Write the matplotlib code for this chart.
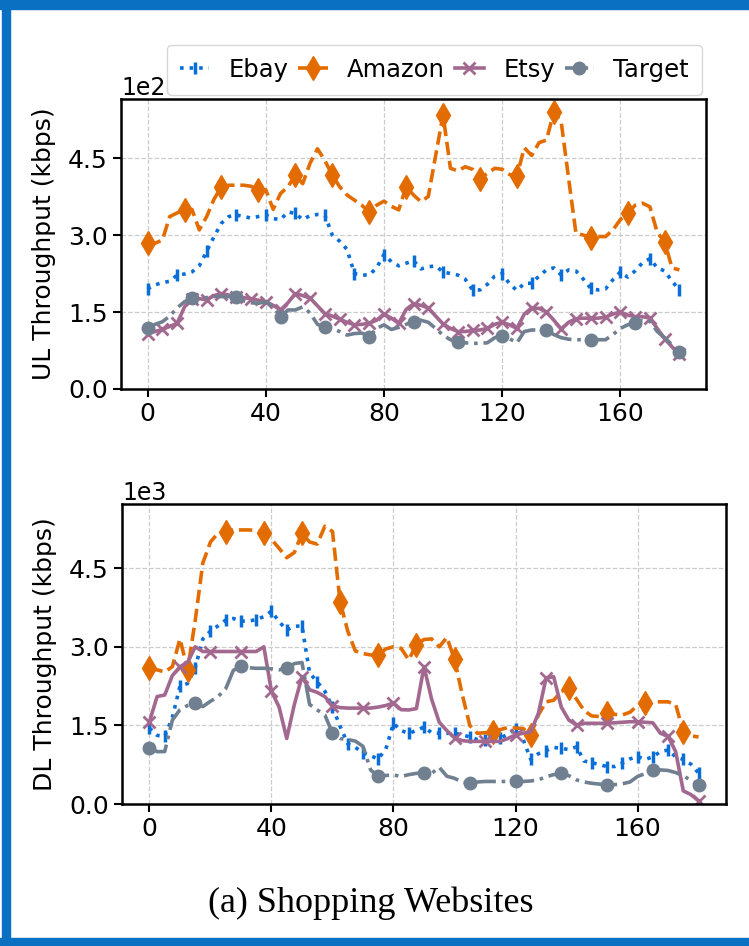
import numpy as np
import matplotlib
matplotlib.use("Agg")
import matplotlib.pyplot as plt
from matplotlib.patches import Rectangle
from matplotlib.ticker import ScalarFormatter

# time axis (s), sampled every 2.5 s
time_s = np.arange(73) * 2.5

series_names = ["Ebay", "Amazon", "Etsy", "Target"]

# ---------------- UL throughput (kbps) ----------------
ul_ebay = [195, 203, 207, 210, 222, 224, 228, 240, 268, 297, 323, 336, 339, 336, 333, 336,
           339, 332, 330, 345, 342, 330, 338, 340, 339, 300, 288, 272, 225, 222, 222, 236,
           262, 248, 240, 245, 250, 234, 238, 240, 228, 225, 222, 214, 193, 193, 204, 220,
           225, 205, 192, 206, 206, 220, 232, 236, 222, 232, 230, 214, 196, 193, 195, 213,
           228, 218, 230, 246, 254, 236, 230, 210, 193]
ul_amazon = [284, 284, 290, 336, 343, 349, 350, 310, 336, 370, 394, 397, 397, 397, 395, 388,
             388, 350, 381, 394, 417, 400, 440, 468, 445, 417, 394, 378, 368, 358, 345, 358,
             366, 356, 349, 394, 378, 365, 375, 455, 534, 430, 425, 433, 428, 410, 420, 430,
             428, 418, 415, 470, 455, 480, 485, 540, 520, 410, 303, 300, 294, 297, 297, 310,
             330, 342, 358, 362, 355, 305, 287, 236, 232]
ul_etsy = [108, 112, 116, 122, 128, 160, 176, 176, 174, 182, 186, 183, 180, 178, 176, 173,
           170, 163, 154, 168, 186, 182, 177, 162, 147, 142, 136, 130, 125, 126, 128, 134,
           146, 138, 128, 155, 166, 163, 158, 142, 127, 118, 112, 112, 114, 115, 118, 126,
           130, 125, 118, 146, 158, 157, 150, 134, 117, 130, 137, 138, 138, 138, 140, 146,
           150, 144, 141, 141, 138, 118, 98, 82, 68]
ul_target = [118, 126, 131, 142, 158, 170, 177, 177, 178, 180, 180, 180, 180, 172, 168, 167,
             170, 160, 141, 154, 154, 160, 148, 126, 120, 118, 112, 105, 108, 109, 102, 118,
             125, 116, 120, 126, 131, 134, 130, 118, 105, 96, 92, 90, 89, 89, 90, 100,
             103, 98, 90, 112, 115, 115, 115, 106, 100, 97, 96, 96, 96, 96, 96, 106,
             118, 125, 128, 134, 132, 112, 100, 86, 72]

# ---------------- DL throughput (kbps) ----------------
dl_ebay = [1450, 1310, 1290, 1650, 2250, 2300, 2600, 3150, 3300, 3400, 3510, 3540, 3490, 3490,
           3520, 3575, 3680, 3480, 3320, 3390, 3400, 2500, 2330, 2150, 1850, 1480, 1150, 1080,
           980, 920, 860, 1050, 1540, 1400, 1350, 1400, 1470, 1360, 1350, 1350, 1350, 1320,
           1280, 1230, 1220, 1220, 1260, 1330, 1430, 1230, 850, 960, 1020, 1080, 1060, 1040,
           1090, 820, 790, 750, 715, 715, 780, 860, 905, 850, 900, 1000, 1030, 900, 850, 760, 590]
dl_amazon = [2590, 2560, 2520, 2620, 3150, 2560, 3500, 4600, 5000, 5170, 5200, 5230, 5230, 5230,
             5220, 5165, 5050, 4880, 4700, 4800, 5165, 5000, 4960, 5300, 5200, 3860, 3300, 2920,
             2870, 2845, 2845, 2960, 3000, 2970, 2750, 3040, 3140, 3150, 3000, 3180, 2760, 2100,
             1500, 1350, 1360, 1380, 1420, 1460, 1450, 1440, 1320, 1700, 1950, 1980, 2150, 2210,
             2000, 1780, 1680, 1670, 1730, 1710, 1700, 1750, 1880, 1920, 1950, 1950, 1950, 1900,
             1380, 1300, 1280]
dl_etsy = [1570, 2050, 2080, 2450, 2620, 2700, 3000, 2910, 2910, 2910, 2910, 2910, 2910, 2910,
           2910, 3000, 2150, 1850, 1250, 1900, 2430, 2180, 2130, 2050, 1870, 1840, 1830, 1830,
           1830, 1830, 1850, 1880, 1925, 1800, 1795, 1820, 2620, 2000, 1560, 1400, 1260, 1210,
           1195, 1195, 1195, 1195, 1195, 1250, 1320, 1350, 1380, 1730, 2400, 2430, 1850, 1600,
           1510, 1540, 1540, 1540, 1540, 1550, 1560, 1570, 1570, 1560, 1550, 1350, 1290, 1000,
           250, 180, 60]
dl_target = [1063, 1000, 1000, 1600, 1800, 1880, 1925, 1860, 1960, 2050, 2200, 2550, 2630, 2600,
             2590, 2590, 2580, 2560, 2590, 2680, 2700, 1900, 1795, 1700, 1350, 1250, 1230, 1200,
             1100, 650, 525, 545, 555, 525, 560, 585, 585, 585, 700, 530, 490, 420, 395, 420,
             430, 430, 430, 430, 430, 430, 440, 460, 520, 560, 585, 540, 460, 420, 395, 380,
             365, 370, 385, 420, 525, 580, 650, 650, 640, 600, 540, 450, 365]

ul_yticks = [0, 150, 300, 450]
dl_yticks = [0, 1500, 3000, 4500]
x_ticks = [0, 40, 80, 120, 160]

colors = {"Ebay": "#0a6ed9", "Amazon": "#e36c00", "Etsy": "#a2688f", "Target": "#708090"}
styles = {
    "Ebay": dict(ls=":", marker="|", ms=8, mew=2.5),
    "Amazon": dict(ls="--", marker="d", ms=12, mew=1),
    "Etsy": dict(ls="-", marker="x", ms=9, mew=2),
    "Target": dict(ls="-.", marker="o", ms=9, mew=1),
}

W, H = 749, 946
fig = plt.figure(figsize=(W / 100, H / 100), dpi=100)

ax1 = fig.add_axes([121 / W, 1 - 389 / H, (706 - 121) / W, (389 - 99) / H])
ax2 = fig.add_axes([122 / W, 1 - 804 / H, (726 - 122) / W, (804 - 504) / H])

ul_data = {"Ebay": ul_ebay, "Amazon": ul_amazon, "Etsy": ul_etsy, "Target": ul_target}
dl_data = {"Ebay": dl_ebay, "Amazon": dl_amazon, "Etsy": dl_etsy, "Target": dl_target}
ul_markevery = {"Ebay": 4, "Amazon": 5, "Etsy": 2, "Target": 6}
dl_markevery = {"Ebay": 2, "Amazon": 5, "Etsy": 4, "Target": 6}

for ax, data, mev, ylab, yt, ytop in [
    (ax1, ul_data, ul_markevery, "UL Throughput (kbps)", ul_yticks, 565),
    (ax2, dl_data, dl_markevery, "DL Throughput (kbps)", dl_yticks, 5725),
]:
    for name in series_names:
        st = styles[name]
        ax.plot(time_s, data[name], color=colors[name], lw=2.6, linestyle=st["ls"],
                marker=st["marker"], ms=st["ms"], mew=st["mew"], markevery=mev[name],
                label=name)
    ax.set_xlim(-9, 189)
    ax.set_ylim(0, ytop)
    ax.set_xticks(x_ticks)
    ax.set_yticks(yt)
    fmt = ScalarFormatter(useMathText=False)
    fmt.set_powerlimits((0, 0))
    ax.yaxis.set_major_formatter(fmt)
    ax.yaxis.get_offset_text().set_fontsize(17)
    ax.tick_params(labelsize=18, length=6, width=1.5)
    ax.set_ylabel(ylab, fontsize=18, labelpad=9)
    ax.grid(True, linestyle="--", color="#cccccc", lw=0.9)
    for sp in ax.spines.values():
        sp.set_linewidth(1.8)
        sp.set_color("black")

ax1.legend(ncol=4, loc="lower right", bbox_to_anchor=(1.0, 1.0), fontsize=17.5,
           handlelength=1.2, handletextpad=0.8, columnspacing=0.4,
           borderaxespad=0.15, borderpad=0.55, frameon=True)

fig.text(371 / W, 1 - 903 / H, "(a) Shopping Websites", ha="center", va="center",
         family="Liberation Serif", fontsize=26)

blue = "#0a70c2"
fig.patches.append(Rectangle((0, 1 - 9 / H), 1, 9 / H, transform=fig.transFigure,
                             color=blue, zorder=10))
fig.patches.append(Rectangle((2 / W, 0), 8 / W, 1, transform=fig.transFigure,
                             color=blue, zorder=10))
fig.patches.append(Rectangle((0, 0), 1, 8 / H, transform=fig.transFigure,
                             color=blue, zorder=10))

fig.savefig("out.png", dpi=100)
